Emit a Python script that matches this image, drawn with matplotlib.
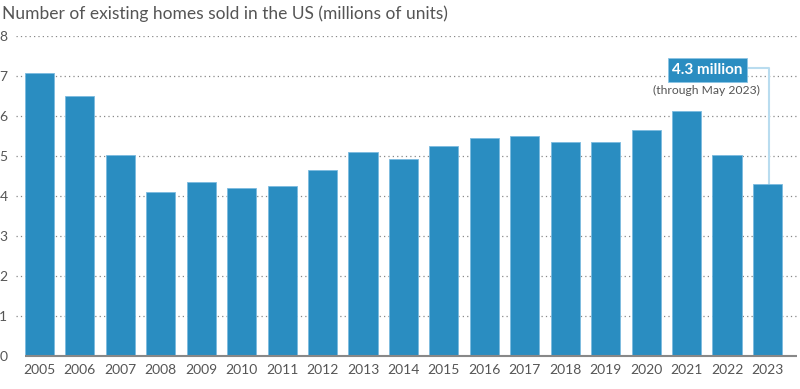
import matplotlib
matplotlib.use("Agg")
import matplotlib.pyplot as plt

years = ["2005", "2006", "2007", "2008", "2009", "2010", "2011", "2012", "2013", "2014",
         "2015", "2016", "2017", "2018", "2019", "2020", "2021", "2022", "2023"]
sales = [7.08, 6.50, 5.03, 4.11, 4.34, 4.19, 4.26, 4.66, 5.09, 4.93,
         5.25, 5.45, 5.51, 5.34, 5.34, 5.64, 6.12, 5.03, 4.30]
yticks = [0, 1, 2, 3, 4, 5, 6, 7, 8]
title = "Number of existing homes sold in the US (millions of units)"
callout = "4.3 million"
callout_note = "(through May 2023)"

plt.rcParams['font.family'] = ['Lato', 'DejaVu Sans']
W, H = 800, 389
fig = plt.figure(figsize=(W/100, H/100), dpi=100)
ax = fig.add_axes([16/W, 1-356/H, (797-16)/W, (356-36)/H])

blue = "#2a8dc1"
gray = "#555555"
x = list(range(len(years)))
ax.bar(x, sales, width=0.72, color=blue, edgecolor="#7bbbe0", linewidth=0.6, zorder=2)

ax.set_xlim(-0.58, 18.73)
ax.set_ylim(0, 8)
for t in yticks[1:]:
    ax.axhline(t, color="#888888", linestyle=(0, (1, 2.5)), linewidth=0.9, zorder=1)
ax.plot([-0.36, 18.73], [0, 0], color="#888888", linewidth=1.5, zorder=3, clip_on=False, solid_capstyle='butt')

for s in ax.spines.values():
    s.set_visible(False)
ax.set_yticks(yticks)
ax.set_yticklabels([str(v) for v in yticks], color=gray, fontsize=10)
ax.tick_params(axis='y', length=0)
for lab in ax.get_yticklabels():
    lab.set_horizontalalignment('left')
ax.yaxis.set_tick_params(pad=12)
ax.set_xticks(x)
ax.set_xticklabels(years, color=gray, fontsize=10)
ax.tick_params(axis='x', length=0, pad=6)

fig.text(2/W, 1-14/H, title, fontsize=12.5, color=gray, va='center', ha='left')

# callout
last = len(years) - 1
ax.plot([17.4, last + 0.04, last + 0.04], [7.2, 7.2, sales[-1]], color="#b9dcef", linewidth=1.5, zorder=1)
ax.text(16.52, 7.15, callout, color="white", fontsize=11, fontweight='bold', ha='center', va='center',
        zorder=4, bbox=dict(boxstyle='square,pad=0.3', facecolor=blue, edgecolor='#8cc4e4', linewidth=0.6))
ax.text(16.48, 6.65, callout_note, color=gray, fontsize=8.7, ha='center', va='center', zorder=4,
        bbox=dict(boxstyle='square,pad=0.1', facecolor='white', edgecolor='none'))

fig.savefig("out.png", dpi=100)
